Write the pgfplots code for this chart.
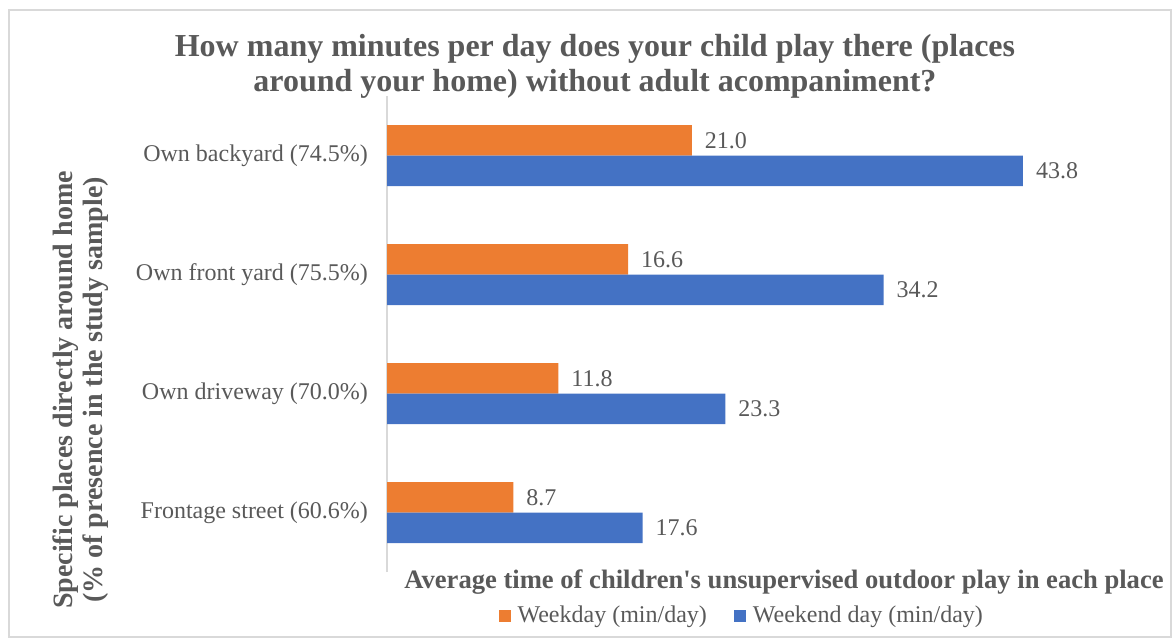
\documentclass[border=0pt]{standalone}
\usepackage{fontspec}
\setmainfont{Liberation Serif}
\usepackage{pgfplots}
\pgfplotsset{compat=1.18}
\definecolor{txt}{HTML}{595959}
\definecolor{cOr}{HTML}{ED7D31}
\definecolor{cBl}{HTML}{4472C4}
\definecolor{frm}{HTML}{D9D9D9}
\begin{document}
\begin{tikzpicture}
\path[use as bounding box] (0pt,0pt) rectangle (586pt,-319.5pt);
\draw[frm, line width=0.75pt] (4.5pt,-5pt) rectangle (585.5pt,-318.5pt);
\node[font=\fontsize{16}{17.5}\selectfont\bfseries, text=txt, align=center] at (297.5pt,-33pt)
  {How many minutes per day does your child play there (places\\around your home) without adult acompaniment?};
\node[font=\fontsize{14}{15}\selectfont\bfseries, text=txt, align=center, rotate=90] at (40.5pt,-195pt)
  {Specific places directly around home\\(\% of presence in the study sample)};
\node[font=\fontsize{13.3}{15}\selectfont\bfseries, text=txt] at (392pt,-291pt)
  {Average time of children\textquotesingle s unsupervised outdoor play in each place};
\begin{axis}[
  at={(193.5pt,-286pt)}, anchor=south west,
  scale only axis, width=385pt, height=238pt,
  xmin=0, xmax=53.03, ymin=-0.5, ymax=3.5,
  xbar, bar width=15.25pt,
  axis lines*=left, hide x axis,
  y axis line style={frm, line width=0.75pt},
  ytick={0,1,2,3},
  yticklabels={Frontage street (60.6\%), Own driveway (70.0\%), Own front yard (75.5\%), Own backyard (74.5\%)},
  major tick length=0pt,
  yticklabel style={font=\fontsize{12}{14}\selectfont, text=txt, xshift=-6pt},
  nodes near coords,
  nodes near coords style={font=\fontsize{12}{14}\selectfont, text=txt, anchor=west, xshift=3pt,
    /pgf/number format/.cd, fixed, fixed zerofill, precision=1, assume math mode=true},
  clip=false,
  legend style={at={(0.462,-0.092)}, anchor=center, draw=none, fill=none,
    font=\fontsize{12}{14}\selectfont, text=txt,
    /tikz/every odd column/.append style={column sep=1.5pt},
    /tikz/every even column/.append style={column sep=11.5pt}},
  legend columns=2,
  legend image code/.code={\fill[#1] (0pt,-3pt) rectangle (6pt,3pt);},
]
\addplot[fill=cOr, draw=none, bar shift=7.625pt] coordinates {(8.7,0) (11.8,1) (16.6,2) (21.0,3)};
\addlegendentry{Weekday (min/day)}
\addplot[fill=cBl, draw=none, bar shift=-7.625pt] coordinates {(17.6,0) (23.3,1) (34.2,2) (43.8,3)};
\addlegendentry{Weekend day (min/day)}
\end{axis}
\end{tikzpicture}
\end{document}
